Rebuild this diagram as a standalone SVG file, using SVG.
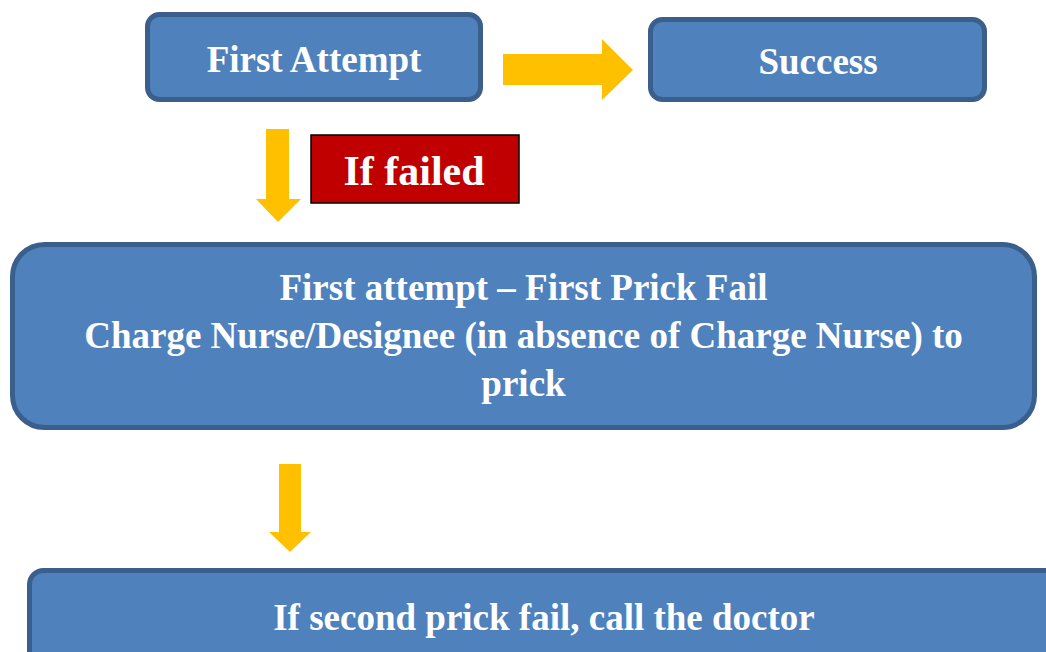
<svg xmlns="http://www.w3.org/2000/svg" width="1046" height="652" viewBox="0 0 1046 652">
<style>
.box{fill:#4F81BD;stroke:#3A5F8C;stroke-width:5}
.arr{fill:#FFC000}
.t{font-family:"Liberation Serif","Times New Roman",serif;font-weight:bold;fill:#FFFFFF;text-anchor:middle}
</style>
<rect width="1046" height="652" fill="#FFFFFF"/>
<g id="connectors">
<polygon class="arr" points="503,54 602,54 602,39 633,70 602,100 602,85 503,85"/>
<polygon class="arr" points="266,129 289,129 289,199 301,199 278,222 256,199 266,199"/>
<polygon class="arr" points="279,464 301,464 301,532 311,532 290,552 269,532 279,532"/>
</g>
<g id="first-attempt">
<rect class="box" x="147.5" y="14.5" width="333" height="85" rx="12"/>
<text class="t" x="314" y="72" font-size="37">First Attempt</text>
</g>
<g id="success">
<rect class="box" x="650.5" y="19.5" width="334" height="80" rx="12"/>
<text class="t" x="818" y="74" font-size="37">Success</text>
</g>
<g id="if-failed">
<rect x="311" y="135" width="208" height="68" fill="#C00000" stroke="#000000" stroke-width="1.5"/>
<text class="t" x="414" y="185" font-size="42">If failed</text>
</g>
<g id="first-prick-fail">
<rect class="box" x="12.5" y="244.5" width="1022" height="183" rx="32"/>
<text class="t" x="523.5" y="300" font-size="37">First attempt – First Prick Fail</text>
<text class="t" x="523.5" y="348" font-size="37">Charge Nurse/Designee (in absence of Charge Nurse) to</text>
<text class="t" x="523.5" y="396" font-size="37">prick</text>
</g>
<g id="second-prick">
<rect class="box" x="29.5" y="570.5" width="1040" height="100" rx="14"/>
<text class="t" x="544" y="630" font-size="37">If second prick fail, call the doctor</text>
</g>
</svg>
